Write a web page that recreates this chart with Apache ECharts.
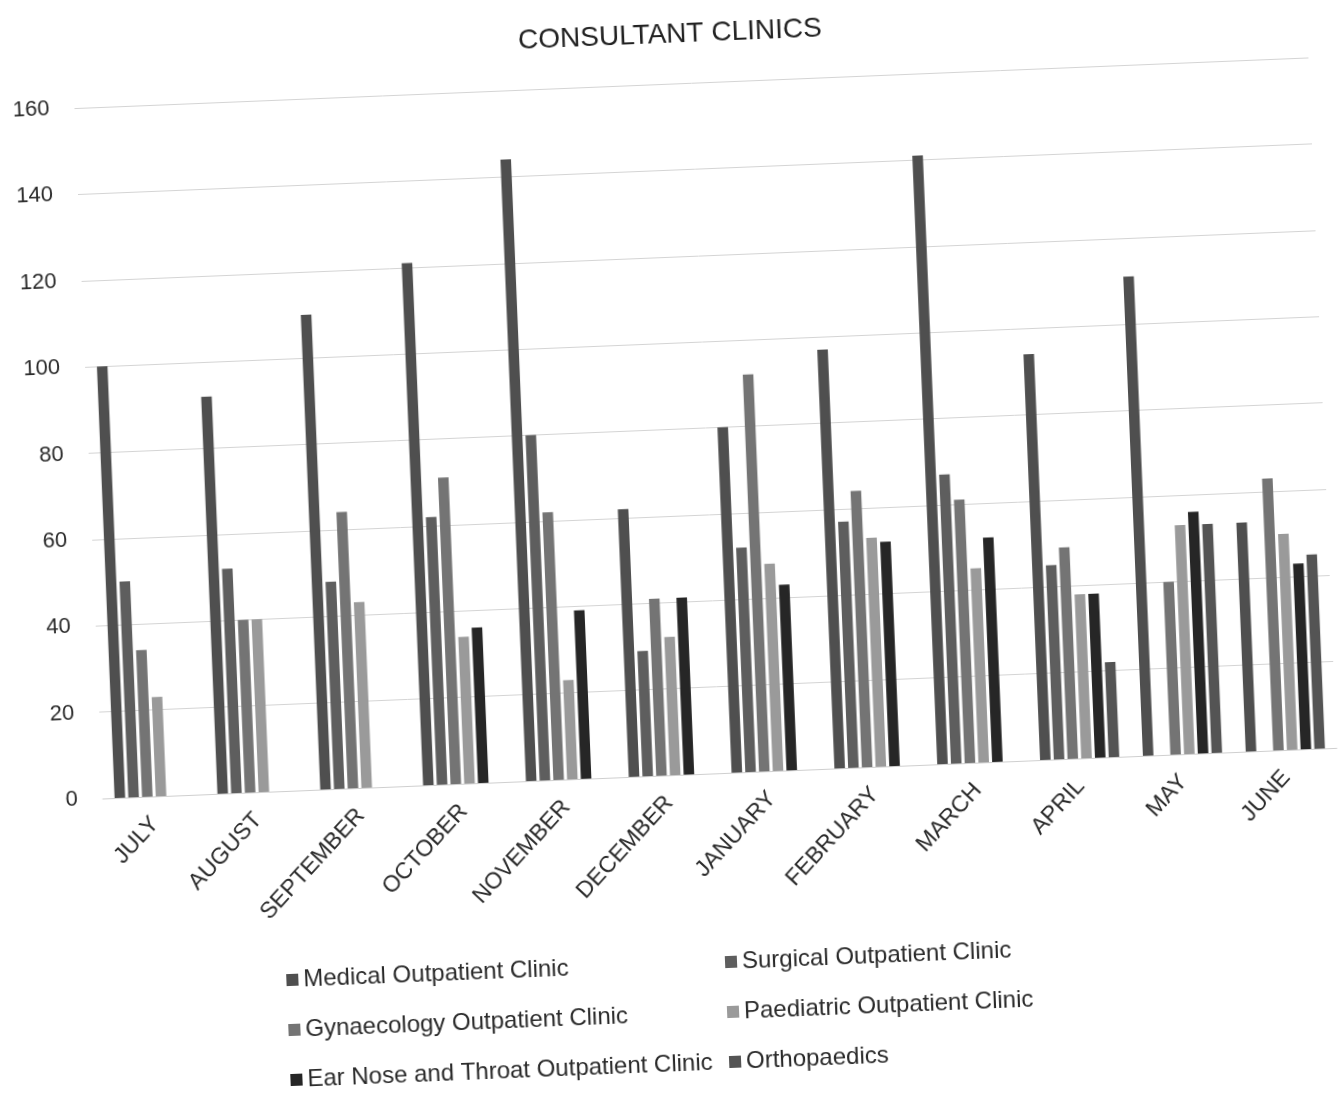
<!DOCTYPE html>
<html>
<head>
<meta charset="utf-8">
<title>Consultant Clinics</title>
<script src="https://cdn.jsdelivr.net/npm/echarts@6/dist/echarts.min.js"></script>
<style>
  html, body { margin: 0; padding: 0; background: #ffffff; overflow: hidden; }
  #wrap { width: 1342px; height: 1097px; transform: rotate(-2.35deg); transform-origin: 671px 548px; }
  #chart { width: 1342px; height: 1097px; }
</style>
</head>
<body>
<div id="wrap"><div id="chart"></div></div>
<script>
// Monthly attendance per consultant clinic
const months = ['JULY', 'AUGUST', 'SEPTEMBER', 'OCTOBER', 'NOVEMBER', 'DECEMBER',
                'JANUARY', 'FEBRUARY', 'MARCH', 'APRIL', 'MAY', 'JUNE'];
const medical     = [100, 92, 110, 121, 144, 62, 80, 97, 141, 94, 111, 53];
const surgical    = [50, 52, 48, 62, 80, 29, 52, 57, 67, 45, 0, 0];
const gynaecology = [34, 40, 64, 71, 62, 41, 92, 64, 61, 49, 40, 63];
const paediatric  = [23, 40, 43, 34, 23, 32, 48, 53, 45, 38, 53, 50];
const ent         = [0, 0, 0, 36, 39, 41, 43, 52, 52, 38, 56, 43];
const orthopaedics = [0, 0, 0, 0, 0, 0, 0, 0, 0, 22, 53, 45];
const yTicks = { min: 0, max: 160, interval: 20 };

const FONT = "'Liberation Sans', Arial, sans-serif";

const seriesDefs = [
  { name: 'Medical Outpatient Clinic', data: medical, color: '#4f4f4f' },
  { name: 'Surgical Outpatient Clinic', data: surgical, color: '#5e5e5e' },
  { name: 'Gynaecology Outpatient Clinic', data: gynaecology, color: '#747474' },
  { name: 'Paediatric Outpatient Clinic', data: paediatric, color: '#9a9a9a' },
  { name: 'Ear Nose and Throat Outpatient Clinic', data: ent, color: '#262626' },
  { name: 'Orthopaedics', data: orthopaedics, color: '#545454' }
];

const legendText = { fontFamily: FONT, fontSize: 24, color: '#2a2a2a', lineHeight: 30 };

const chart = echarts.init(document.getElementById('chart'), null, { renderer: 'canvas' });
chart.setOption({
  backgroundColor: '#ffffff',
  animation: false,
  title: {
    text: 'CONSULTANT CLINICS',
    left: 686,
    top: 16,
    textAlign: 'center',
    textStyle: { fontFamily: FONT, fontSize: 28, fontWeight: 'normal', color: '#222222' }
  },
  legend: [
    {
      orient: 'vertical',
      left: 264,
      top: 944,
      itemWidth: 12,
      itemHeight: 12,
      itemGap: 20,
      itemTextGap: 7,
      icon: 'rect',
      textStyle: legendText,
      data: [seriesDefs[0].name, seriesDefs[2].name, seriesDefs[4].name]
    },
    {
      orient: 'vertical',
      left: 703,
      top: 944,
      itemWidth: 12,
      itemHeight: 12,
      itemGap: 20,
      itemTextGap: 7,
      icon: 'rect',
      textStyle: legendText,
      data: [seriesDefs[1].name, seriesDefs[3].name, seriesDefs[5].name]
    }
  ],
  grid: { left: 93, top: 84, width: 1235, height: 691, containLabel: false },
  xAxis: {
    type: 'category',
    data: months,
    axisLine: { show: true, lineStyle: { color: '#cfcfcf', width: 1 } },
    axisTick: { show: false },
    axisLabel: {
      rotate: 45,
      margin: 24,
      interval: 0,
      fontFamily: FONT,
      fontSize: 23,
      color: '#2a2a2a'
    }
  },
  yAxis: {
    type: 'value',
    min: yTicks.min,
    max: yTicks.max,
    interval: yTicks.interval,
    axisLine: { show: false },
    axisTick: { show: false },
    splitLine: { show: true, lineStyle: { color: '#d4d4d4', width: 1 } },
    axisLabel: { margin: 25, fontFamily: FONT, fontSize: 22, color: '#2a2a2a' }
  },
  series: seriesDefs.map(s => ({
    name: s.name,
    type: 'bar',
    data: s.data,
    barGap: '30%',
    barCategoryGap: '23%',
    itemStyle: { color: s.color },
    emphasis: { disabled: true }
  }))
});
</script>
</body>
</html>
